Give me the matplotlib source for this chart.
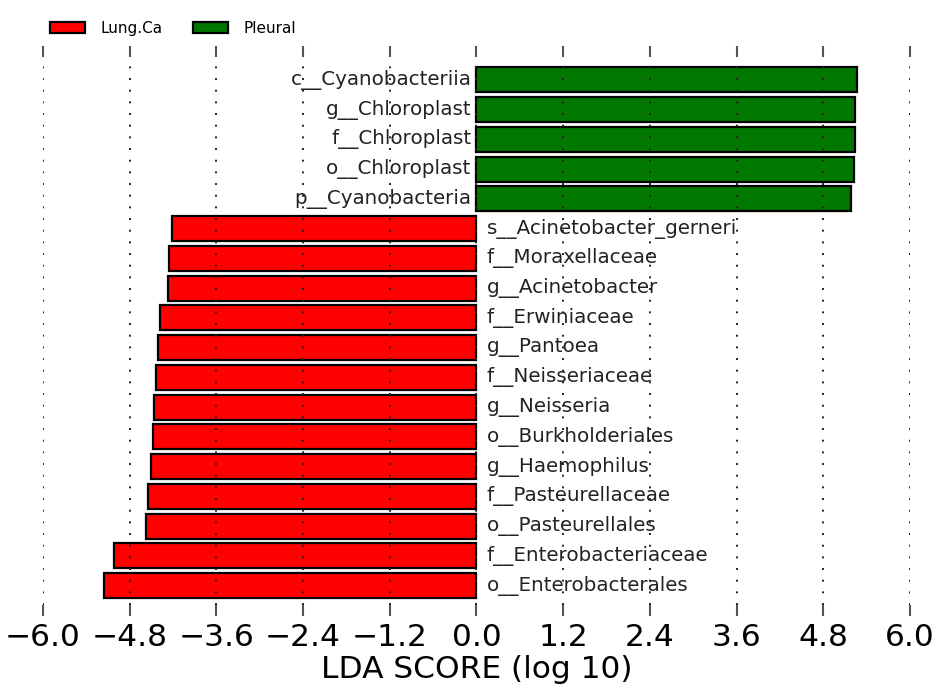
import matplotlib
matplotlib.use("Agg")
import matplotlib.pyplot as plt
from matplotlib.patches import Patch
import matplotlib.transforms as mtransforms

# Data (top to bottom as displayed)
taxa = [
    "c__Cyanobacteriia", "g__Chloroplast", "f__Chloroplast", "o__Chloroplast",
    "p__Cyanobacteria", "s__Acinetobacter_gerneri", "f__Moraxellaceae",
    "g__Acinetobacter", "f__Erwiniaceae", "g__Pantoea", "f__Neisseriaceae",
    "g__Neisseria", "o__Burkholderiales", "g__Haemophilus", "f__Pasteurellaceae",
    "o__Pasteurellales", "f__Enterobacteriaceae", "o__Enterobacterales",
]
lda = [
    5.26, 5.24, 5.24, 5.22, 5.18,
    -4.21, -4.25, -4.27, -4.38, -4.41, -4.44, -4.46, -4.48,
    -4.51, -4.55, -4.57, -5.02, -5.15,
]
groups = ["Lung.Ca", "Pleural"]
group_colors = {"Lung.Ca": "#ff0000", "Pleural": "#007800"}
xticks = [-6.0, -4.8, -3.6, -2.4, -1.2, 0.0, 1.2, 2.4, 3.6, 4.8, 6.0]

fig = plt.figure(figsize=(9.44, 6.91), dpi=100)
ax = fig.add_axes([0.0455, 0.1245, 0.9185, 0.793])

n = len(taxa)
ypos = [n - 1 - i for i in range(n)]
colors = [group_colors["Pleural"] if v > 0 else group_colors["Lung.Ca"] for v in lda]
ax.barh(ypos, lda, height=0.84, color=colors, edgecolor="black", linewidth=1.6, zorder=1)

# labels next to zero
offs_right = mtransforms.offset_copy(ax.transData, fig=fig, x=10, y=0, units="dots")
offs_left = mtransforms.offset_copy(ax.transData, fig=fig, x=-5, y=0, units="dots")
for y, v, t in zip(ypos, lda, taxa):
    if v > 0:
        ax.text(0, y, t, ha="right", va="center", fontsize=14.3, color="#222222",
                transform=offs_left, zorder=3)
    else:
        ax.text(0, y, t, ha="left", va="center", fontsize=14.3, color="#222222",
                transform=offs_right, zorder=3)

ax.set_xlim(-6.0, 6.0)
ax.set_ylim(-0.65, n - 1 + 0.77)
ax.set_xticks(xticks)
ax.set_xticklabels([f"{x:.1f}".replace("-", "\u2212") for x in xticks], fontsize=22.5)
ax.set_yticks([])
for s in ax.spines.values():
    s.set_visible(False)
ax.tick_params(axis="x", which="both", top=True, bottom=True, direction="out",
               length=8, width=1.5, color="#555555", pad=5)
ax.xaxis.grid(True, linestyle=(0, (1, 5)), linewidth=1.4, color="#222222", zorder=2)
ax.set_axisbelow(False)
ax.set_xlabel("LDA SCORE (log 10)", fontsize=22.5, labelpad=2)

handles = [Patch(facecolor=group_colors[g], edgecolor="black", linewidth=1.6, label=g) for g in groups]
fig.legend(handles=handles, loc="upper left", bbox_to_anchor=(0.038, 0.99), ncol=2,
           frameon=False, fontsize=11, handlelength=2.3, handleheight=0.75,
           columnspacing=2.0, handletextpad=1.0)

fig.savefig("out.png", dpi=100)
